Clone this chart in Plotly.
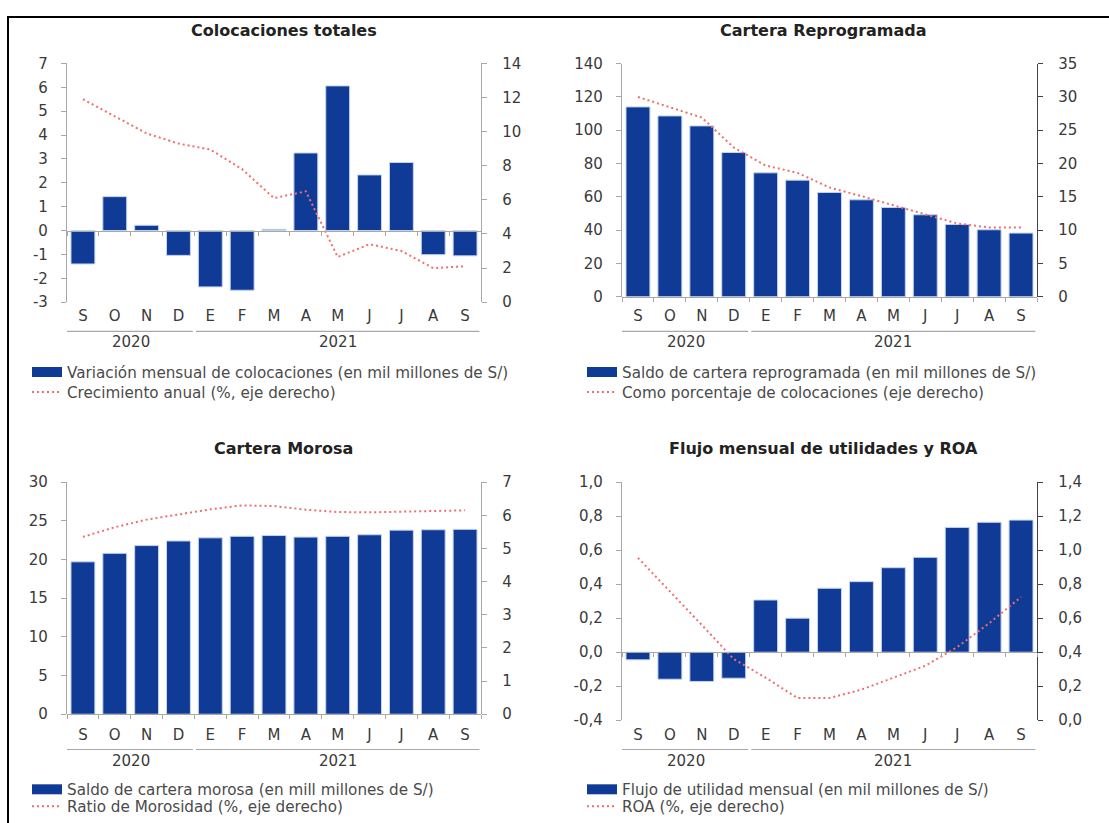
import plotly.graph_objects as go

# ---------------- data ----------------
months = ["S", "O", "N", "D", "E", "F", "M", "A", "M", "J", "J", "A", "S"]
idx = list(range(len(months)))
years = ["2020", "2021"]
year_centers = [1.5, 8.0]
year_spans = [(-0.5, 3.45), (3.55, 12.45)]

coloc_var = [-1.40, 1.42, 0.22, -1.04, -2.36, -2.50, 0.05, 3.25, 6.06, 2.33, 2.85, -1.01, -1.06]
coloc_growth = [11.9, 10.9, 9.9, 9.3, 8.95, 7.8, 6.1, 6.5, 2.65, 3.4, 3.0, 2.0, 2.1]

repro_saldo = [114.0, 108.6, 102.6, 86.6, 74.4, 70.0, 62.6, 58.2, 53.6, 49.2, 43.4, 40.2, 38.2]
repro_pct = [30.0, 28.5, 26.9, 22.4, 19.7, 18.6, 16.4, 15.1, 13.7, 12.3, 11.0, 10.4, 10.4]

morosa_saldo = [19.7, 20.8, 21.8, 22.4, 22.8, 23.0, 23.1, 22.9, 23.0, 23.2, 23.8, 23.85, 23.9]
morosa_ratio = [5.35, 5.64, 5.87, 6.03, 6.18, 6.30, 6.28, 6.17, 6.10, 6.09, 6.10, 6.13, 6.15]

util_flujo = [-0.045, -0.159, -0.172, -0.153, 0.307, 0.20, 0.376, 0.415, 0.497, 0.558, 0.734, 0.764, 0.777]
roa = [0.955, 0.76, 0.56, 0.36, 0.25, 0.13, 0.13, 0.18, 0.25, 0.32, 0.43, 0.57, 0.725]

titles = ["Colocaciones totales", "Cartera Reprogramada", "Cartera Morosa",
          "Flujo mensual de utilidades y ROA"]
bar_names = ["Variación mensual de colocaciones (en mil millones de S/)",
             "Saldo de cartera reprogramada (en mil millones de S/)",
             "Saldo de cartera morosa (en mill millones de S/)",
             "Flujo de utilidad mensual (en mil millones de S/)"]
line_names = ["Crecimiento anual (%, eje derecho)",
              "Como porcentaje de colocaciones (eje derecho)",
              "Ratio de Morosidad (%, eje derecho)",
              "ROA (%, eje derecho)"]

left_ticks_1 = [-3, -2, -1, 0, 1, 2, 3, 4, 5, 6, 7]
left_text_1 = ["-3", "-2", "-1", "0", "1", "2", "3", "4", "5", "6", "7"]
right_ticks_1 = [0, 2, 4, 6, 8, 10, 12, 14]
right_text_1 = ["0", "2", "4", "6", "8", "10", "12", "14"]

left_ticks_2 = [0, 20, 40, 60, 80, 100, 120, 140]
left_text_2 = ["0", "20", "40", "60", "80", "100", "120", "140"]
right_ticks_2 = [0, 5, 10, 15, 20, 25, 30, 35]
right_text_2 = ["0", "5", "10", "15", "20", "25", "30", "35"]

left_ticks_3 = [0, 5, 10, 15, 20, 25, 30]
left_text_3 = ["0", "5", "10", "15", "20", "25", "30"]
right_ticks_3 = [0, 1, 2, 3, 4, 5, 6, 7]
right_text_3 = ["0", "1", "2", "3", "4", "5", "6", "7"]

left_ticks_4 = [-0.4, -0.2, 0.0, 0.2, 0.4, 0.6, 0.8, 1.0]
left_text_4 = ["-0,4", "-0,2", "0,0", "0,2", "0,4", "0,6", "0,8", "1,0"]
right_ticks_4 = [0.0, 0.2, 0.4, 0.6, 0.8, 1.0, 1.2, 1.4]
right_text_4 = ["0,0", "0,2", "0,4", "0,6", "0,8", "1,0", "1,2", "1,4"]

# ---------------- style / layout ----------------
W, H = 1109, 823
BLUE = "#0F3B96"
BAR_EDGE = "#C4D4EE"
RED = "#F06E6E"
GRAY = "#A8A8A8"
TXT = "#3A3A3A"
FONT = "DejaVu Sans"

# vertical placement helper: target screen rows -> figure rows
# (calibrated for the page capture: screen_y ~= 8 + 0.978 * figure_y)
Y_OFF, Y_SCALE = 8.0, 0.978


def fx(p):
    return p / W


def fy(p):
    return 1 - ((p - Y_OFF) / Y_SCALE) / H


def fpx(p):
    return (p - Y_OFF) / Y_SCALE


panels = [
    dict(bars=coloc_var, line=coloc_growth, lt=left_ticks_1, ltx=left_text_1,
         rt=right_ticks_1, rtx=right_text_1, lr=[-3, 7], rr=[0, 14],
         xpx=(67, 481), ypx=(62.5, 301.5), title_xy=(283.5, 30),
         month_y=316.7, sep_y=330.7, year_y=341.7, leg_x=27, leg_rows=(371.7, 391.7),
         rcol=GRAY),
    dict(bars=repro_saldo, line=repro_pct, lt=left_ticks_2, ltx=left_text_2,
         rt=right_ticks_2, rtx=right_text_2, lr=[0, 140], rr=[0, 35],
         xpx=(622, 1037), ypx=(62.7, 296), title_xy=(823, 30),
         month_y=316.7, sep_y=330.7, year_y=341.7, leg_x=582, leg_rows=(371.7, 391.7),
         rcol="#444444"),
    dict(bars=morosa_saldo, line=morosa_ratio, lt=left_ticks_3, ltx=left_text_3,
         rt=right_ticks_3, rtx=right_text_3, lr=[0, 30], rr=[0, 7],
         xpx=(67, 481), ypx=(481.7, 714), title_xy=(283.5, 448),
         month_y=736, sep_y=749.3, year_y=760.7, leg_x=27, leg_rows=(789.5, 806.5),
         rcol=GRAY),
    dict(bars=util_flujo, line=roa, lt=left_ticks_4, ltx=left_text_4,
         rt=right_ticks_4, rtx=right_text_4, lr=[-0.4, 1.0], rr=[0.0, 1.4],
         xpx=(622, 1037), ypx=(481.7, 720), title_xy=(823, 448),
         month_y=736, sep_y=749.3, year_y=760.7, leg_x=582, leg_rows=(789.5, 806.5),
         rcol="#444444"),
]

fig = go.Figure()
layout = dict(
    width=W, height=H, margin=dict(l=0, r=0, t=0, b=0),
    paper_bgcolor="white", plot_bgcolor="white",
    font=dict(family=FONT, color=TXT),
    bargap=0.25, showlegend=True,
)
shapes = []
annotations = []
boundaries = [i - 0.5 for i in range(len(months) + 1)]
xrange_ = [-0.5, len(months) - 0.5]


def key(kind, n):
    return f"{kind}axis" if n == 1 else f"{kind}axis{n}"


def ref(kind, n):
    return kind if n == 1 else f"{kind}{n}"


def legname(n):
    return "legend" if n == 1 else f"legend{n}"


for i, p in enumerate(panels, start=1):
    nl, nt = 2 * i - 1, 2 * i
    xl, xt = ref("x", nl), ref("x", nt)
    yl, yr = ref("y", nl), ref("y", nt)
    leg_bar, leg_line = legname(2 * i - 1), legname(2 * i)
    x0, x1 = fx(p["xpx"][0]), fx(p["xpx"][1])
    yb, yt = fy(p["ypx"][1]), fy(p["ypx"][0])
    lo, hi = p["lr"]
    zero_pos = yb + (0 - lo) / (hi - lo) * (yt - yb)
    standoff = max(0, int(round(fpx(p["month_y"]) - fpx(p["ypx"][1]) - 12.8)))

    layout[key("x", nl)] = dict(
        domain=[x0, x1], anchor=yl, range=xrange_, tickmode="array",
        tickvals=idx, ticktext=months, ticks="", showline=False, showgrid=False,
        zeroline=False, tickfont=dict(size=15, color=TXT),
        ticklabelstandoff=standoff, fixedrange=True)
    layout[key("x", nt)] = dict(
        overlaying=xl, anchor="free", position=zero_pos, range=xrange_,
        tickmode="array", tickvals=boundaries, showticklabels=False,
        ticks="outside", ticklen=4, tickcolor=GRAY, showline=True,
        linecolor=GRAY, linewidth=1, showgrid=False, zeroline=False)
    layout[key("y", nl)] = dict(
        domain=[yb, yt], anchor=xl, range=p["lr"], tickmode="array",
        tickvals=p["lt"], ticktext=p["ltx"], ticks="outside", ticklen=5,
        tickcolor=GRAY, showline=True, linecolor=GRAY, linewidth=1.3,
        showgrid=False, zeroline=False, tickfont=dict(size=15, color=TXT),
        ticklabelstandoff=10)
    layout[key("y", nt)] = dict(
        overlaying=yl, side="right", anchor=xl, range=p["rr"], tickmode="array",
        tickvals=p["rt"], ticktext=p["rtx"], ticks="outside", ticklen=5,
        tickcolor=p["rcol"], showline=True, linecolor=p["rcol"], linewidth=1.3,
        showgrid=False, zeroline=False, tickfont=dict(size=15, color=TXT),
        ticklabelstandoff=12)
    for lg, row in zip((leg_bar, leg_line), p["leg_rows"]):
        layout[lg] = dict(
            x=fx(p["leg_x"]), y=1 - (fpx(row) - 17.1) / H, xanchor="left",
            yanchor="top", bgcolor="rgba(0,0,0,0)", borderwidth=0,
            font=dict(size=15.2, color="#4A4A4A", family=FONT))

    fig.add_trace(go.Bar(
        x=idx, y=p["bars"], xaxis=xl, yaxis=yl, name=bar_names[i - 1],
        marker=dict(color=BLUE, line=dict(color=BAR_EDGE, width=1)),
        showlegend=False, hoverinfo="y"))
    # legend swatch for the bars (wide rectangle as in the reference)
    fig.add_trace(go.Scatter(
        x=[None], y=[None], xaxis=xl, yaxis=yl, mode="lines",
        line=dict(color=BLUE, width=10), name=bar_names[i - 1], legend=leg_bar))
    fig.add_trace(go.Scatter(
        x=idx, y=p["line"], xaxis=xl, yaxis=yr, mode="lines",
        line=dict(color=RED, width=2, dash="2px,3px"), name=line_names[i - 1],
        legend=leg_line, hoverinfo="y"))
    # host trace for the tick axis placed on the zero line
    fig.add_trace(go.Scatter(x=[None], y=[None], xaxis=xt, yaxis=yl,
                             mode="lines", showlegend=False, hoverinfo="skip"))

    annotations.append(dict(
        text=f"<b>{titles[i - 1]}</b>", xref="paper", yref="paper",
        x=fx(p["title_xy"][0]), y=fy(p["title_xy"][1]), xanchor="center",
        yanchor="middle", showarrow=False,
        font=dict(size=16, color="#222222", family=FONT)))
    for yr_txt, xc, (sx0, sx1) in zip(years, year_centers, year_spans):
        annotations.append(dict(
            text=yr_txt, xref=xl, yref="paper", x=xc, y=fy(p["year_y"]),
            xanchor="center", yanchor="middle", showarrow=False,
            font=dict(size=15, color=TXT, family=FONT)))
        shapes.append(dict(
            type="line", xref=xl, yref="paper", x0=sx0, x1=sx1,
            y0=fy(p["sep_y"]), y1=fy(p["sep_y"]),
            line=dict(color=GRAY, width=1.2)))

# outer frame
shapes.append(dict(type="rect", xref="paper", yref="paper", x0=fx(8), x1=1.05,
                   y0=-0.05, y1=fy(16), line=dict(color="black", width=2),
                   fillcolor="rgba(0,0,0,0)", layer="above"))

layout["shapes"] = shapes
layout["annotations"] = annotations
fig.update_layout(**layout)

fig.write_html("out.html", config={"displayModeBar": False},
               post_script="document.body.style.margin='0';document.body.style.overflow='hidden';")
